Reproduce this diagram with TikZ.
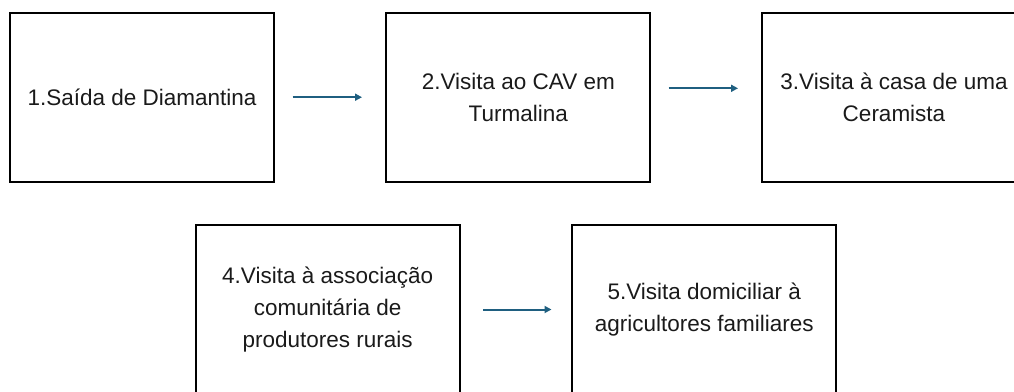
\documentclass[tikz,border=0pt]{standalone}
\usepackage{fontspec}
\setmainfont{Liberation Sans}
\usetikzlibrary{arrows.meta}
\definecolor{arrblue}{HTML}{1F5F80}
\definecolor{txt}{HTML}{1A1A1A}
\tikzset{
  stepbox/.style={draw=black, line width=2pt, minimum width=264pt, minimum height=169pt,
    align=center, text=txt, inner sep=0pt, outer sep=0pt,
    font=\fontsize{22.5}{31.7}\selectfont},
  flow/.style={draw=arrblue, line width=2pt, -{Triangle[length=7pt,width=7pt]}}
}
\begin{document}
\begin{tikzpicture}[x=1pt,y=-1pt]
\useasboundingbox (0,0) rectangle (1014,391);
\clip (0,0) rectangle (1014,391);
\node[stepbox] (b1) at (142,97.2) {1.Saída de Diamantina};
\node[stepbox] (b2) at (518.3,97.2) {2.Visita ao CAV em\\Turmalina};
\node[stepbox] (b3) at (894,97.2) {3.Visita à casa de uma\\Ceramista};
\node[stepbox] (b4) at (327.7,309.5) {4.Visita à associação\\comunitária de\\produtores rurais};
\node[stepbox] (b5) at (704.2,309.5) {5.Visita domiciliar à\\agricultores familiares};
\draw[flow, shorten <=18.7pt, shorten >=24.3pt] (b1.east) -- (b2.west);
\draw[flow, shorten <=18.3pt, shorten >=24pt] (b2.east |- 0,88.3) -- (b3.west |- 0,88.3);
\draw[flow, shorten <=23.4pt, shorten >=20.7pt] (b4.east) -- (b5.west);
\end{tikzpicture}
\end{document}
